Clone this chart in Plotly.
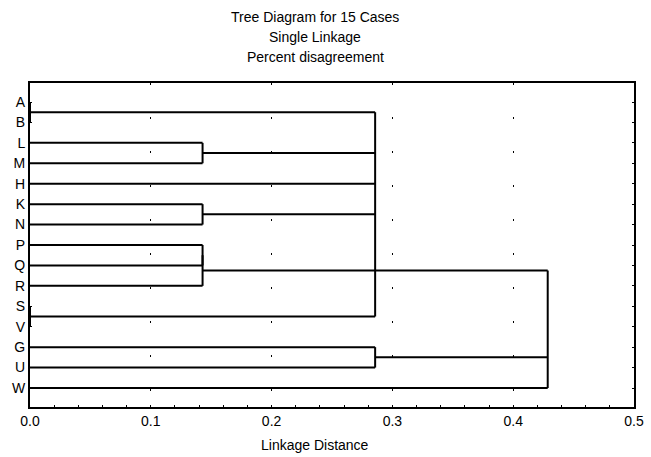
import plotly.graph_objects as go

# ---- data ----
cases = ["A", "B", "L", "M", "H", "K", "N", "P", "Q", "R", "S", "V", "G", "U", "W"]
# merge steps: children (case labels or earlier merge ids "m<i>") and linkage distance
merge_children = [
    ["A", "B"],
    ["S", "V"],
    ["L", "M"],
    ["K", "N"],
    ["P", "Q"],
    ["m4", "R"],
    ["m5", "m0", "m2", "H", "m3", "m1"],
    ["G", "U"],
    ["m6", "m7", "W"],
]
merge_heights = [0.0, 0.0, 1 / 7, 1 / 7, 1 / 7, 1 / 7, 2 / 7, 2 / 7, 3 / 7]
x_ticks = [0.0, 0.1, 0.2, 0.3, 0.4, 0.5]

# ---- build dendrogram segments ----
pos = {c: (float(i), 0.0) for i, c in enumerate(cases)}  # name -> (row, height)
xs, ys = [], []
for k, (ch, h) in enumerate(zip(merge_children, merge_heights)):
    rows = [pos[c][0] for c in ch]
    for c in ch:
        r, x0 = pos[c]
        xs += [x0, h, None]
        ys += [r, r, None]
    xs += [h, h, None]
    ys += [min(rows), max(rows), None]
    new_row = (rows[0] + rows[1]) / 2 if len(ch) == 2 else rows[0]
    pos["m%d" % k] = (new_row, h)

fig = go.Figure()
fig.add_trace(go.Scatter(x=xs, y=ys, mode="lines",
                         line=dict(color="black", width=2),
                         hoverinfo="skip", showlegend=False))

font = dict(family="Liberation Sans, Arial, sans-serif", size=14, color="black")

fig.update_layout(
    width=651, height=457, autosize=False,
    margin=dict(l=30, r=17, t=83, b=50, autoexpand=False),
    paper_bgcolor="white", plot_bgcolor="white",
    font=font,
    showlegend=False,
    xaxis=dict(
        range=[0, 0.5], tickvals=x_ticks, ticktext=["%.1f" % v for v in x_ticks],
        ticks="inside", ticklen=2, tickcolor="black",
        minor=dict(dtick=0.02, ticks="inside", ticklen=2, tickcolor="black", showgrid=False),
        showline=True, linecolor="black", linewidth=2, mirror=True,
        showgrid=True, gridcolor="black", gridwidth=1, griddash="2px,32px",
        zeroline=False, fixedrange=True, automargin=False,
    ),
    yaxis=dict(
        range=[14.93, -0.93], tickvals=list(range(len(cases))), ticktext=cases,
        ticks="inside", ticklen=2, tickcolor="black",
        showline=True, linecolor="black", linewidth=2, mirror="allticks",
        showgrid=False, zeroline=False, fixedrange=True, automargin=False,
    ),
)

titles = ["Tree Diagram for 15 Cases", "Single Linkage", "Percent disagreement"]
title_px = [17, 37, 57]
for t, p in zip(titles, title_px):
    fig.add_annotation(text=t, xref="paper", yref="paper",
                       x=(315 - 30) / 604, y=(407 - p) / 324,
                       xanchor="center", yanchor="middle", showarrow=False, font=font)
fig.add_annotation(text="Linkage Distance", xref="paper", yref="paper",
                   x=(315 - 30) / 604, y=(407 - 445) / 324,
                   xanchor="center", yanchor="middle", showarrow=False, font=font)

fig.write_html("out.html", config={"displayModeBar": False, "responsive": False},
               post_script="document.body.style.margin='0';document.body.style.overflow='hidden';")
